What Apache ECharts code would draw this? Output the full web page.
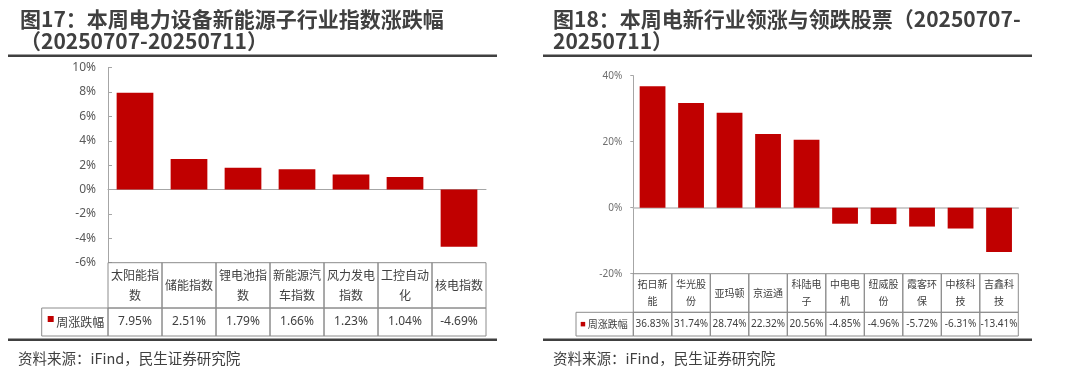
<!DOCTYPE html>
<html>
<head>
<meta charset="utf-8">
<script src="https://cdn.jsdelivr.net/npm/echarts@6/dist/echarts.min.js"></script>
<style>
  html, body { margin: 0; padding: 0; background: #fff; }
  #main { width: 1080px; height: 375px; }
</style>
</head>
<body>
<div id="main"></div>
<script>
// 图17 电力设备新能源子行业指数
const sectorNames = ['太阳能指数', '储能指数', '锂电池指数', '新能源汽车指数', '风力发电指数', '工控自动化', '核电指数'];
const sectorChange = [7.95, 2.51, 1.79, 1.66, 1.23, 1.04, -4.69];
const sectorTicks = [-6, -4, -2, 0, 2, 4, 6, 8, 10];

// 图18 领涨与领跌股票
const stockNames = ['拓日新能', '华光股份', '亚玛顿', '京运通', '科陆电子', '中电电机', '纽威股份', '霞客环保', '中核科技', '吉鑫科技'];
const stockChange = [36.83, 31.74, 28.74, 22.32, 20.56, -4.85, -4.96, -5.72, -6.31, -13.41];
const stockTicks = [-20, 0, 20, 40];

const seriesName = '周涨跌幅';
const RED = '#C00000';
const TXT = '#404040';
const FONT = "'Noto Sans', 'Noto Sans CJK SC', sans-serif";
const CJK = "'Noto Sans CJK SC', 'Noto Sans', sans-serif";

// 按字数折行
function wrap(s, n) {
  let out = [];
  for (let i = 0; i < s.length; i += n) out.push(s.slice(i, i + n));
  return out.join('\n');
}

// 表格单元(表头 + 数值行 + 左侧图例格)
function tableRender(names, opt) {
  return function (params, api) {
    const i = params.dataIndex;
    const top = api.coord([i, 0]);
    const bw = api.size([1, 0])[0];
    const x0 = top[0] - bw / 2;
    const y0 = top[1];
    const y1 = api.coord([i, 1])[1];
    const y2 = api.coord([i, 1 + opt.ratio])[1];
    const line = { fill: 'none', stroke: '#8c8c8c', lineWidth: 1 };
    const v = api.value(1);
    const children = [
      { type: 'rect', shape: { x: x0, y: y0, width: bw, height: y1 - y0 }, style: line },
      { type: 'rect', shape: { x: x0, y: y1, width: bw, height: y2 - y1 }, style: line },
      { type: 'text', style: { text: wrap(names[i], opt.wrap), x: top[0], y: (y0 + y1) / 2,
          align: 'center', verticalAlign: 'middle', fill: TXT, fontSize: opt.fontSize,
          fontFamily: CJK, lineHeight: opt.lineHeight } },
      { type: 'text', style: { text: v.toFixed(2) + '%', x: top[0], y: (y1 + y2) / 2,
          align: 'center', verticalAlign: 'middle', fill: TXT, fontSize: opt.fontSize,
          fontFamily: FONT } }
    ];
    if (i === 0) {
      const lx = x0 - opt.legendW;
      const my = (y1 + y2) / 2;
      children.push({ type: 'rect', shape: { x: lx, y: y1, width: opt.legendW, height: y2 - y1 }, style: line });
      children.push({ type: 'rect', shape: { x: lx + opt.markX, y: my - opt.mark / 2 - opt.markUp, width: opt.mark, height: opt.mark }, style: { fill: RED } });
      children.push({ type: 'text', style: { text: seriesName, x: lx + opt.markX + opt.mark + 2.5, y: my,
          align: 'left', verticalAlign: 'middle', fill: TXT, fontSize: opt.fontSize, fontFamily: CJK } });
    }
    return { type: 'group', children: children };
  };
}

const chart = echarts.init(document.getElementById('main'));

const titleStyle = { fontSize: 21, fontWeight: 'bold', color: '#404040', lineHeight: 22, fontFamily: CJK };
const srcStyle = { fontSize: 14.5, fontWeight: 'normal', color: '#404040', lineHeight: 18, fontFamily: CJK };

chart.setOption({
  animation: false,
  textStyle: { fontFamily: FONT },
  title: [
    { text: '图17：本周电力设备新能源子行业指数涨跌幅\n（20250707-20250711）', left: 20, top: 8, padding: 0, textStyle: titleStyle },
    { text: '图18：本周电新行业领涨与领跌股票（20250707-\n20250711）', left: 553, top: 8, padding: 0, textStyle: titleStyle },
    { text: '资料来源：iFind，民生证券研究院', left: 18, top: 349, padding: 0, textStyle: srcStyle },
    { text: '资料来源：iFind，民生证券研究院', left: 553, top: 349, padding: 0, textStyle: srcStyle }
  ],
  graphic: [
    { type: 'rect', shape: { x: 8, y: 54.5, width: 489, height: 2.5 }, style: { fill: '#404040' } },
    { type: 'rect', shape: { x: 543, y: 54.5, width: 489, height: 2.5 }, style: { fill: '#404040' } },
    { type: 'rect', shape: { x: 8, y: 338.5, width: 489, height: 2.5 }, style: { fill: '#404040' } },
    { type: 'rect', shape: { x: 543, y: 338.5, width: 489, height: 2.5 }, style: { fill: '#404040' } }
  ],
  grid: [
    { left: 108, top: 67.7, width: 378, height: 195 },
    { left: 108, top: 262.7, width: 378, height: 73.3 },
    { left: 633.3, top: 75.7, width: 385, height: 198 },
    { left: 633.3, top: 273.7, width: 385, height: 62.3 }
  ],
  xAxis: [
    { type: 'category', gridIndex: 0, data: sectorNames,
      axisLine: { lineStyle: { color: '#a6a6a6' } }, axisTick: { show: false }, axisLabel: { show: false } },
    { type: 'category', gridIndex: 1, data: sectorNames, show: false },
    { type: 'category', gridIndex: 2, data: stockNames,
      axisLine: { lineStyle: { color: '#bfbfbf', width: 1.5 } }, axisTick: { show: false }, axisLabel: { show: false } },
    { type: 'category', gridIndex: 3, data: stockNames, show: false }
  ],
  yAxis: [
    { type: 'value', gridIndex: 0, min: sectorTicks[0], max: sectorTicks[sectorTicks.length - 1],
      interval: sectorTicks[1] - sectorTicks[0], splitLine: { show: false },
      axisLine: { show: true, lineStyle: { color: '#a6a6a6' } },
      axisTick: { show: true, inside: true, length: 4, lineStyle: { color: '#a6a6a6' } },
      axisLabel: { formatter: v => v + '%', fontSize: 12, color: '#595959', margin: 12 } },
    { type: 'value', gridIndex: 1, min: 0, max: 1.618, inverse: true, show: false },
    { type: 'value', gridIndex: 2, min: stockTicks[0], max: stockTicks[stockTicks.length - 1],
      interval: stockTicks[1] - stockTicks[0], splitLine: { show: false },
      axisLine: { show: true, lineStyle: { color: '#a6a6a6' } },
      axisTick: { show: true, length: 3, lineStyle: { color: '#a6a6a6' } },
      axisLabel: { formatter: v => v + '%', fontSize: 10, color: '#6f6f6f', margin: 11 } },
    { type: 'value', gridIndex: 3, min: 0, max: 1.614, inverse: true, show: false }
  ],
  series: [
    { name: seriesName, type: 'bar', xAxisIndex: 0, yAxisIndex: 0, data: sectorChange,
      barWidth: '68%', itemStyle: { color: RED } },
    { name: seriesName, type: 'custom', xAxisIndex: 1, yAxisIndex: 1, clip: false,
      data: sectorChange.map((v, i) => [i, v]),
      renderItem: tableRender(sectorNames, { ratio: 0.618, wrap: 4, fontSize: 12, lineHeight: 20,
        legendW: 66.3, markX: 6, mark: 6, markUp: 3 }) },
    { name: seriesName, type: 'bar', xAxisIndex: 2, yAxisIndex: 2, data: stockChange,
      barWidth: '67%', itemStyle: { color: RED } },
    { name: seriesName, type: 'custom', xAxisIndex: 3, yAxisIndex: 3, clip: false,
      data: stockChange.map((v, i) => [i, v]),
      renderItem: tableRender(stockNames, { ratio: 0.614, wrap: 3, fontSize: 10, lineHeight: 16.7,
        legendW: 57.3, markX: 4.7, mark: 4.5, markUp: 0 }) }
  ]
});
</script>
</body>
</html>
